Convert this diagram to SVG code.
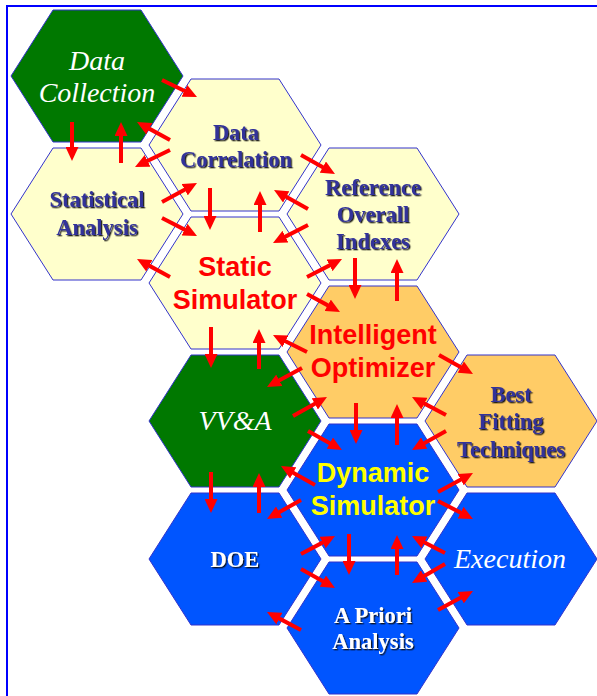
<svg xmlns="http://www.w3.org/2000/svg" width="597" height="696" viewBox="0 0 597 696">
<style>
.hex{stroke:#3333cc;stroke-width:1}
.green{fill:#007800}
.yel{fill:#ffffcc}
.org{fill:#ffcc66}
.blue{fill:#0055ff}
text{text-anchor:middle}
.sb{font-family:"Liberation Serif","Times New Roman",serif;font-weight:bold;font-size:22.5px;fill:#333399;filter:url(#sh)}
.sw{font-family:"Liberation Serif","Times New Roman",serif;font-weight:bold;font-size:22.5px;fill:#ffffff;filter:url(#sh)}
.it{font-family:"Liberation Serif","Times New Roman",serif;font-style:italic;font-size:28px;fill:#ffffff}
.ss{font-family:"Liberation Sans",Arial,sans-serif;font-weight:bold;font-size:27px}
.red{fill:#ff0000}
.ylw{fill:#ffff00}
#arrows line{stroke:#ff0000;stroke-width:4;stroke-dasharray:84 100;marker-end:url(#ah)}
</style>
<defs>
<filter id="sh" x="-10%" y="-20%" width="130%" height="150%">
<feDropShadow dx="1.3" dy="1.3" stdDeviation="0.2" flood-color="#111111" flood-opacity="0.9"/>
</filter>
<marker id="ah" markerUnits="userSpaceOnUse" viewBox="0 0 14 13" refX="14" refY="6.5" markerWidth="14" markerHeight="13" orient="auto">
<path d="M0,0 L14,6.5 L0,13 z" fill="#ff0000"/>
</marker>
<polygon id="hx" points="-86,0 -44,-66 44,-66 86,0 44,66 -44,66"/>
</defs>
<rect x="7" y="6" width="600" height="700" fill="#ffffff" stroke="#0000ff" stroke-width="2"/>

<g id="data-collection">
<use href="#hx" x="97" y="76" class="hex green"/>
<text class="it" x="97" y="70">Data</text>
<text class="it" x="97" y="102">Collection</text>
</g>
<g id="statistical-analysis">
<use href="#hx" x="97" y="214" class="hex yel"/>
<text class="sb" x="97" y="207">Statistical</text>
<text class="sb" x="97" y="235">Analysis</text>
</g>
<g id="data-correlation">
<use href="#hx" x="235" y="145" class="hex yel"/>
<text class="sb" x="236" y="140">Data</text>
<text class="sb" x="236" y="167">Correlation</text>
</g>
<g id="static-simulator">
<use href="#hx" x="235" y="283" class="hex yel"/>
<text class="ss red" x="235" y="276">Static</text>
<text class="ss red" x="235" y="309">Simulator</text>
</g>
<g id="vva">
<use href="#hx" x="235" y="421" class="hex green"/>
<text class="it" x="235" y="430">VV&amp;A</text>
</g>
<g id="doe">
<use href="#hx" x="235" y="559" class="hex blue"/>
<text class="sw" x="235" y="567">DOE</text>
</g>
<g id="reference-overall-indexes">
<use href="#hx" x="373" y="214" class="hex yel"/>
<text class="sb" x="373" y="195">Reference</text>
<text class="sb" x="373" y="222">Overall</text>
<text class="sb" x="373" y="249">Indexes</text>
</g>
<g id="intelligent-optimizer">
<use href="#hx" x="373" y="352" class="hex org"/>
<text class="ss red" x="373" y="344">Intelligent</text>
<text class="ss red" x="373" y="377">Optimizer</text>
</g>
<g id="dynamic-simulator">
<use href="#hx" x="373" y="490" class="hex blue"/>
<text class="ss ylw" x="373" y="482">Dynamic</text>
<text class="ss ylw" x="373" y="515">Simulator</text>
</g>
<g id="a-priori-analysis">
<use href="#hx" x="373" y="628" class="hex blue"/>
<text class="sw" x="373" y="623">A Priori</text>
<text class="sw" x="373" y="649">Analysis</text>
</g>
<g id="best-fitting-techniques">
<use href="#hx" x="511" y="421" class="hex org"/>
<text class="sb" x="511" y="402">Best</text>
<text class="sb" x="511" y="429">Fitting</text>
<text class="sb" x="511" y="457">Techniques</text>
</g>
<g id="execution">
<use href="#hx" x="511" y="559" class="hex blue"/>
<text class="it" x="510" y="568">Execution</text>
</g>

<g id="arrows">
<line pathLength="100" x1="162" y1="80" x2="197" y2="97"/>
<line pathLength="100" x1="170" y1="140" x2="137" y2="122"/>
<line pathLength="100" x1="170" y1="150" x2="135" y2="167"/>
<line pathLength="100" x1="72" y1="122" x2="72" y2="161"/>
<line pathLength="100" x1="121" y1="163" x2="121" y2="122"/>
<line pathLength="100" x1="162" y1="202" x2="197" y2="183"/>
<line pathLength="100" x1="162" y1="218" x2="197" y2="236"/>
<line pathLength="100" x1="210" y1="188" x2="210" y2="230"/>
<line pathLength="100" x1="260" y1="232" x2="260" y2="191"/>
<line pathLength="100" x1="301" y1="155" x2="335" y2="174"/>
<line pathLength="100" x1="308" y1="209" x2="274" y2="190"/>
<line pathLength="100" x1="308" y1="225" x2="273" y2="243"/>
<line pathLength="100" x1="307" y1="277" x2="342" y2="259"/>
<line pathLength="100" x1="307" y1="294" x2="340" y2="312"/>
<line pathLength="100" x1="355" y1="258" x2="355" y2="299"/>
<line pathLength="100" x1="397" y1="301" x2="397" y2="259"/>
<line pathLength="100" x1="170" y1="277" x2="137" y2="259"/>
<line pathLength="100" x1="211" y1="327" x2="211" y2="368"/>
<line pathLength="100" x1="259" y1="369" x2="259" y2="329"/>
<line pathLength="100" x1="307" y1="352" x2="273" y2="335"/>
<line pathLength="100" x1="302" y1="368" x2="267" y2="387"/>
<line pathLength="100" x1="293" y1="416" x2="327" y2="397"/>
<line pathLength="100" x1="308" y1="431" x2="342" y2="450"/>
<line pathLength="100" x1="439" y1="355" x2="473" y2="374"/>
<line pathLength="100" x1="446" y1="415" x2="412" y2="397"/>
<line pathLength="100" x1="446" y1="431" x2="412" y2="450"/>
<line pathLength="100" x1="356" y1="403" x2="356" y2="444"/>
<line pathLength="100" x1="397" y1="445" x2="397" y2="404"/>
<line pathLength="100" x1="315" y1="485" x2="281" y2="466"/>
<line pathLength="100" x1="438" y1="492" x2="473" y2="473"/>
<line pathLength="100" x1="438" y1="501" x2="473" y2="519"/>
<line pathLength="100" x1="211" y1="472" x2="211" y2="513"/>
<line pathLength="100" x1="259" y1="513" x2="259" y2="473"/>
<line pathLength="100" x1="301" y1="500" x2="267" y2="519"/>
<line pathLength="100" x1="301" y1="554" x2="335" y2="536"/>
<line pathLength="100" x1="301" y1="569" x2="335" y2="588"/>
<line pathLength="100" x1="349" y1="534" x2="349" y2="575"/>
<line pathLength="100" x1="301" y1="630" x2="267" y2="612"/>
<line pathLength="100" x1="397" y1="575" x2="397" y2="535"/>
<line pathLength="100" x1="445" y1="553" x2="412" y2="536"/>
<line pathLength="100" x1="445" y1="564" x2="412" y2="583"/>
<line pathLength="100" x1="438" y1="610" x2="473" y2="591"/>
</g>
</svg>
